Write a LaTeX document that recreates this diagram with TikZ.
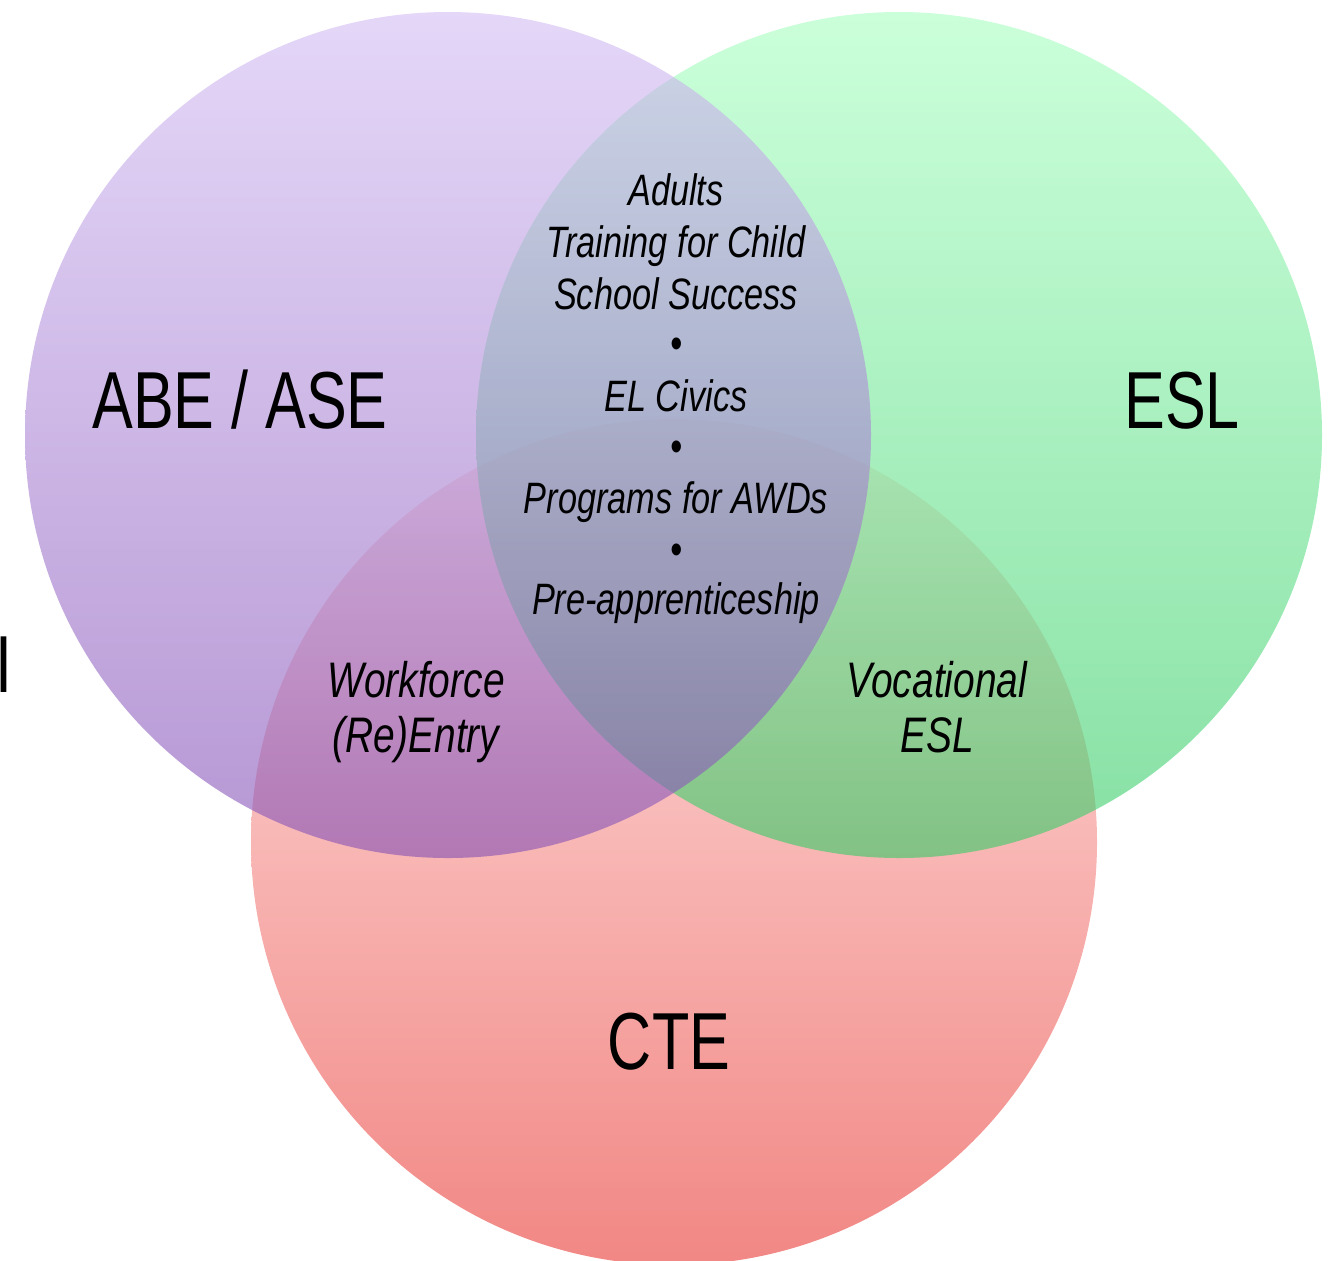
\documentclass[tikz,border=0pt]{standalone}
\usepackage{fontspec}
\setmainfont{Liberation Sans}[FakeStretch=0.78]
\newfontfamily\bigfont{Liberation Sans}[FakeStretch=0.755]
\definecolor{purpleTop}{RGB}{210,188,243}
\definecolor{purpleBot}{RGB}{132,80,182}
\definecolor{greenTop}{RGB}{168,255,193}
\definecolor{greenBot}{RGB}{53,203,102}
\definecolor{redTop}{RGB}{255,214,212}
\definecolor{redBot}{RGB}{232,55,50}
\tikzset{
  setcircle/.style={fill opacity=0.6, draw=none},
  biglabel/.style={font=\bigfont\fontsize{23}{27}\selectfont, inner sep=0pt, anchor=base},
  midlabel/.style={font=\fontsize{12.5}{15}\selectfont\itshape, inner sep=0pt, anchor=base},
  sidelabel/.style={font=\fontsize{14.2}{17}\selectfont\itshape, inner sep=0pt, anchor=base},
}
\begin{document}
\begin{tikzpicture}[x=0.01cm,y=-0.01cm]
\useasboundingbox (0,0) rectangle (1334,1260);
\begin{scope}
\clip (0,0) rectangle (1334,1260);
\shade[setcircle, top color=redTop, bottom color=redBot] (674,842) circle[radius=423];
\shade[setcircle, top color=greenTop, bottom color=greenBot] (899,435) circle[radius=423];
\shade[setcircle, top color=purpleTop, bottom color=purpleBot] (448,435) circle[radius=423];
\end{scope}
% set names
\node[biglabel] (abe) at (240,428) {ABE / ASE};
\node[biglabel] (esl) at (1182,428) {ESL};
\node[biglabel] (cte) at (669,1069) {CTE};
\node[biglabel] (edge) at (4,692) {I};
% central intersection
\node[midlabel] (l1) at (676,205) {Adults};
\node[midlabel] (l2) at (676,257) {Training for Child};
\node[midlabel] (l3) at (676,309) {School Success};
\node[midlabel] (b1) at (676,358) {•};
\node[midlabel] (l4) at (676,411) {EL Civics};
\node[midlabel] (b2) at (676,461) {•};
\node[midlabel] (l5) at (676,513) {Programs for AWDs};
\node[midlabel] (b3) at (676,564) {•};
\node[midlabel] (l6) at (676,614) {Pre-apprenticeship};
% pairwise intersections
\node[sidelabel] (w1) at (416,697) {Workforce};
\node[sidelabel] (w2) at (416,752) {(Re)Entry};
\node[sidelabel] (v1) at (937,697) {Vocational};
\node[sidelabel] (v2) at (937,752) {ESL};
\end{tikzpicture}
\end{document}
